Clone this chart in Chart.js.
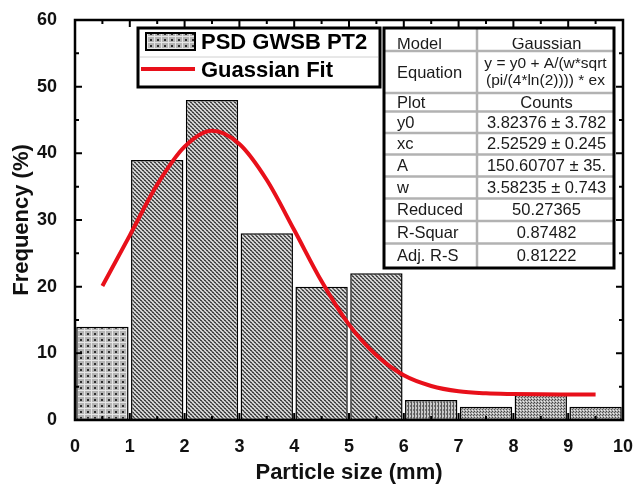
<!DOCTYPE html>
<html>
<head>
<meta charset="utf-8">
<script src="https://cdn.jsdelivr.net/npm/chart.js@4.4.0/dist/chart.umd.min.js"></script>
<style>
  html, body { margin: 0; padding: 0; background: #fff; }
  canvas { display: block; }
</style>
</head>
<body>
<canvas id="psd-chart" width="635" height="488"></canvas>
<script>
// Histogram bins (centre of each 1 mm class) and frequency (%)
const binCenters = [0.5, 1.5, 2.5, 3.5, 4.5, 5.5, 6.5, 7.5, 8.5, 9.5];
const frequency = [14, 39, 48, 28, 20, 22, 3, 2, 4, 2];

// Gaussian fit curve
const fitX = [0.5, 1, 1.5, 2, 2.5, 3, 3.5, 4, 4.5, 5, 5.5, 6, 6.5, 7, 7.5, 8, 8.5, 9, 9.5];
const fitY = [20.1, 27.7, 35.3, 41.0, 43.4, 41.4, 36.0, 28.5, 20.8, 14.3, 9.7, 6.7, 5.1, 4.3, 4.0, 3.9, 3.85, 3.83, 3.82];

// Fit report table
const tableLabels = ['Model', 'Equation', 'Plot', 'y0', 'xc', 'A', 'w', 'Reduced', 'R-Squar', 'Adj. R-S'];
const tableValues = [
  ['Gaussian'],
  ['y = y0 + A/(w*sqrt', '(pi/(4*ln(2)))) * ex'],
  ['Counts'],
  ['3.82376 \u00b1 3.782'],
  ['2.52529 \u00b1 0.245'],
  ['150.60707 \u00b1 35.'],
  ['3.58235 \u00b1 0.743'],
  ['50.27365'],
  ['0.87482'],
  ['0.81222'],
];

const FONT = '"Liberation Sans", Arial, Helvetica, sans-serif';
Chart.defaults.font.family = FONT;
Chart.defaults.color = '#111';

const ctx0 = document.getElementById('psd-chart').getContext('2d');

// Origin-like hatch fills
const makePattern = (w, h, bg, dots) => {
  const c = document.createElement('canvas');
  c.width = w;
  c.height = h;
  const g = c.getContext('2d');
  g.fillStyle = bg;
  g.fillRect(0, 0, w, h);
  dots.forEach(([x, y, dw, dh, col]) => {
    g.fillStyle = col;
    g.fillRect(x, y, dw, dh);
  });
  return ctx0.createPattern(c, 'repeat');
};
const dotGrid = makePattern(7, 6, '#b4b4b4', [
  [0, 0, 7, 1, '#e6e6e6'], [0, 0, 1, 6, '#e6e6e6'], [3, 3, 2, 2, '#2e2e2e'],
]);
const weave = makePattern(4, 4, '#d4d4d4', [
  [0, 0, 2, 1, '#404040'], [2, 2, 2, 1, '#404040'],
  [1, 1, 2, 1, '#6a6a6a'], [3, 3, 1, 1, '#6a6a6a'], [0, 3, 1, 1, '#6a6a6a'],
]);
const stripes = makePattern(3, 4, '#c8c8c8', [[0, 0, 1, 4, '#555'], [2, 1, 1, 2, '#7a7a7a']]);
const fine = makePattern(3, 3, '#b0b0b0', [[0, 0, 1, 1, '#444'], [2, 1, 1, 1, '#555'], [1, 2, 1, 1, '#eee']]);
const barFills = [dotGrid, weave, weave, weave, weave, weave, stripes, fine, fine, fine];

// Frame with inward ticks on all four sides
const frameTicks = {
  id: 'frameTicks',
  afterDatasetsDraw(c) {
    const { ctx, chartArea: a, scales: { x, y } } = c;
    ctx.save();
    ctx.strokeStyle = '#000';
    ctx.lineWidth = 2.5;
    ctx.strokeRect(a.left, a.top, a.right - a.left, a.bottom - a.top);
    ctx.lineWidth = 2;
    ctx.beginPath();
    for (let v = 0; v <= 60; v += 5) {
      const p = y.getPixelForValue(v);
      const len = v % 10 === 0 ? 7 : 4;
      ctx.moveTo(a.left, p); ctx.lineTo(a.left + len, p);
      ctx.moveTo(a.right, p); ctx.lineTo(a.right - len, p);
    }
    for (let v = 0; v <= 10; v += 0.5) {
      const p = x.getPixelForValue(v);
      const len = v % 1 === 0 ? 7 : 4;
      ctx.moveTo(p, a.top); ctx.lineTo(p, a.top + len);
      ctx.moveTo(p, a.bottom); ctx.lineTo(p, a.bottom - len);
    }
    ctx.stroke();
    ctx.restore();
  },
};

// Legend box and fit report table
const overlays = {
  id: 'overlays',
  afterDraw(c) {
    const { ctx } = c;
    ctx.save();
    // legend
    ctx.fillStyle = '#fff';
    ctx.fillRect(138, 28, 242, 59);
    ctx.strokeStyle = '#000';
    ctx.lineWidth = 3;
    ctx.strokeRect(138, 28, 242, 59);
    ctx.strokeStyle = '#d0d0d0';
    ctx.lineWidth = 1;
    ctx.beginPath(); ctx.moveTo(140, 57); ctx.lineTo(378, 57); ctx.stroke();
    ctx.fillStyle = dotGrid;
    ctx.fillRect(146, 33, 49, 17);
    ctx.strokeStyle = '#000';
    ctx.lineWidth = 2;
    ctx.strokeRect(146, 33, 49, 17);
    ctx.strokeStyle = '#e8101a';
    ctx.lineWidth = 4;
    ctx.beginPath(); ctx.moveTo(141, 69); ctx.lineTo(195, 69); ctx.stroke();
    ctx.fillStyle = '#000';
    ctx.font = `bold 22px ${FONT}`;
    ctx.textBaseline = 'middle';
    ctx.textAlign = 'left';
    ctx.fillText('PSD GWSB PT2', 201, 43);
    ctx.fillText('Guassian Fit', 201, 71);

    // table
    const x0 = 384; const x1 = 477; const x2 = 614;
    const rows = [28, 51, 93, 111.5, 133, 154.5, 176.5, 198.5, 221, 243.5, 268];
    ctx.fillStyle = '#fff';
    ctx.fillRect(x0, rows[0], x2 - x0, rows[rows.length - 1] - rows[0]);
    ctx.strokeStyle = '#b2b2b2';
    ctx.lineWidth = 2.5;
    ctx.beginPath();
    for (let i = 1; i < rows.length - 1; i += 1) {
      ctx.moveTo(x0, rows[i]); ctx.lineTo(x2, rows[i]);
    }
    ctx.moveTo(x1, rows[0]); ctx.lineTo(x1, rows[rows.length - 1]);
    ctx.stroke();
    ctx.fillStyle = '#1a1a1a';
    tableLabels.forEach((lab, i) => {
      const top = rows[i]; const bot = rows[i + 1];
      let mid = (top + bot) / 2 + 1;
      ctx.save();
      if (i === 0) {
        mid += 4;
        ctx.beginPath();
        ctx.rect(x0, 38, x2 - x0, bot - 38);
        ctx.clip();
      }
      ctx.font = `16.5px ${FONT}`;
      ctx.textAlign = 'left';
      ctx.fillText(lab, 397, mid);
      ctx.textAlign = 'center';
      const vals = tableValues[i];
      if (vals.length === 1) {
        ctx.fillText(vals[0], (x1 + x2) / 2 + 1, mid);
      } else {
        ctx.font = `15.5px ${FONT}`;
        ctx.fillText(vals[0], (x1 + x2) / 2, mid - 9);
        ctx.fillText(vals[1], (x1 + x2) / 2, mid + 8);
      }
      ctx.restore();
    });
    ctx.strokeStyle = '#000';
    ctx.lineWidth = 3;
    ctx.strokeRect(x0, rows[0], x2 - x0, rows[rows.length - 1] - rows[0]);
    ctx.restore();
  },
};

new Chart(ctx0, {
  type: 'bar',
  data: {
    datasets: [
      {
        type: 'line',
        label: 'Guassian Fit',
        data: fitX.map((v, i) => ({ x: v, y: fitY[i] })),
        borderColor: '#e8101a',
        borderWidth: 4,
        pointRadius: 0,
        cubicInterpolationMode: 'monotone',
        fill: false,
        order: 0,
      },
      {
        label: 'PSD GWSB PT2',
        data: binCenters.map((v, i) => ({ x: v, y: frequency[i] })),
        backgroundColor: barFills,
        borderColor: '#000',
        borderWidth: 1.5,
        borderSkipped: false,
        barPercentage: 1,
        categoryPercentage: 0.955,
        order: 1,
      },
    ],
  },
  options: {
    responsive: false,
    animation: false,
    layout: {
      padding: { left: 0, right: 12, top: 20, bottom: 0 },
    },
    scales: {
      x: {
        type: 'linear',
        min: 0,
        max: 10,
        offset: false,
        grid: { display: false },
        border: { display: false },
        ticks: {
          stepSize: 1,
          padding: 8,
          maxRotation: 0,
          color: '#111',
          font: { size: 18, weight: 'bold' },
        },
        title: {
          display: true,
          text: 'Particle size (mm)',
          color: '#111',
          font: { size: 22, weight: 'bold' },
          padding: { top: 0, bottom: 2 },
        },
        afterFit: (s) => {
          s.height = 68;
          s.paddingLeft = 0;
          s.paddingRight = 0;
        },
      },
      y: {
        min: 0,
        max: 60,
        grid: { display: false },
        border: { display: false },
        ticks: {
          stepSize: 10,
          padding: 10,
          color: '#111',
          font: { size: 18, weight: 'bold' },
        },
        title: {
          display: true,
          text: 'Frequency (%)',
          color: '#111',
          font: { size: 22, weight: 'bold' },
          padding: { top: 9, bottom: 0 },
        },
        afterFit: (s) => {
          s.width = 75;
          s.paddingTop = 0;
          s.paddingBottom = 0;
        },
      },
    },
    plugins: {
      legend: { display: false },
      tooltip: { enabled: false },
    },
  },
  plugins: [frameTicks, overlays],
});
</script>
</body>
</html>
